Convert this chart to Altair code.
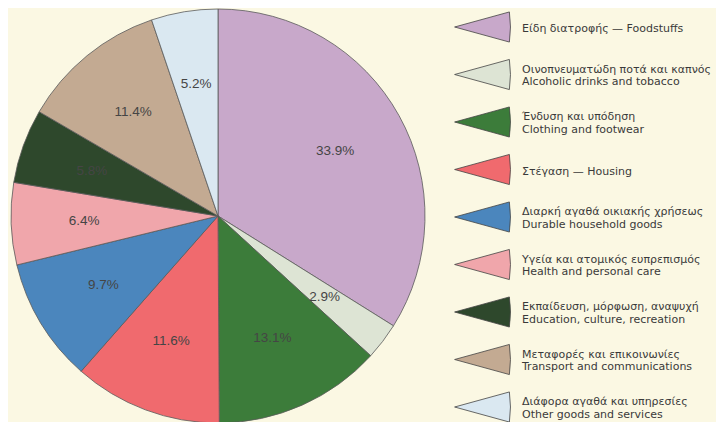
import altair as alt
import pandas as pd

greek = [
    "Είδη διατροφής",
    "Οινοπνευματώδη ποτά και καπνός",
    "Ένδυση και υπόδηση",
    "Στέγαση",
    "Διαρκή αγαθά οικιακής χρήσεως",
    "Υγεία και ατομικός ευπρεπισμός",
    "Εκπαίδευση, μόρφωση, αναψυχή",
    "Μεταφορές και επικοινωνίες",
    "Διάφορα αγαθά και υπηρεσίες",
]
english = [
    "Foodstuffs",
    "Alcoholic drinks and tobacco",
    "Clothing and footwear",
    "Housing",
    "Durable household goods",
    "Health and personal care",
    "Education, culture, recreation",
    "Transport and communications",
    "Other goods and services",
]
shares = [33.9, 2.9, 13.1, 11.6, 9.7, 6.4, 5.8, 11.4, 5.2]
colors = ["#c8a8ca", "#dde4d4", "#3c7c3a", "#f06a6e", "#4b86bd",
          "#f0a6ab", "#2e482c", "#c3aa92", "#dae8f1"]
single_line = [True, False, False, True, False, False, False, False, False]

legend_text = [
    (g + " — " + e) if s else (g + "\n" + e)
    for g, e, s in zip(greek, english, single_line)
]

df = pd.DataFrame({
    "cat": english,
    "order": list(range(len(english))),
    "share": shares,
    "label": [f"{v:.1f}%" for v in shares],
    "legend": legend_text,
    "single": single_line,
})

color_scale = alt.Scale(domain=english, range=colors)
cx, cy = 210, 208

base = alt.Chart(df)

pie = base.mark_arc(radius=207, stroke="#5a5a5a", strokeWidth=0.8).encode(
    theta=alt.Theta("share:Q", stack=True),
    order=alt.Order("order:Q"),
    color=alt.Color("cat:N", scale=color_scale, legend=None),
    x=alt.value(cx),
    y=alt.value(cy),
)

labels = base.mark_text(
    radius=134, font="Liberation Sans", fontSize=13.5, color="#454545"
).encode(
    theta=alt.Theta("share:Q", stack=True),
    order=alt.Order("order:Q"),
    text="label:N",
    x=alt.value(cx),
    y=alt.value(cy),
)

yscale = alt.Scale(domain=english, range=[19, 399], type="point", padding=0)

tri = base.mark_point(
    shape="M -1 0 L 1 -0.55 Q 1.08 0 1 0.55 Z",
    size=3000,
    filled=True,
    opacity=1,
    stroke="#444444",
    strokeWidth=0.8,
).encode(
    x=alt.value(474),
    y=alt.Y("cat:N", scale=yscale, axis=None),
    color=alt.Color("cat:N", scale=color_scale, legend=None),
)

text_style = dict(align="left", baseline="middle", lineBreak="\n", lineHeight=12.5,
                  font="DejaVu Sans", fontSize=11, color="#3a3a3a")

leg_text1 = base.transform_filter("datum.single").mark_text(dy=2, **text_style).encode(
    x=alt.value(514),
    y=alt.Y("cat:N", scale=yscale, axis=None),
    text="legend:N",
)
leg_text2 = base.transform_filter("!datum.single").mark_text(dy=-5, **text_style).encode(
    x=alt.value(514),
    y=alt.Y("cat:N", scale=yscale, axis=None),
    text="legend:N",
)

chart = alt.layer(pie, labels, tri, leg_text1, leg_text2).properties(
    width=708, height=414, padding=0,
    autosize=alt.AutoSizeParams(type="none"),
    background="#fbf8e3",
).configure_view(stroke=None)

chart.save("out.html", embed_options={"renderer": "svg", "actions": False})
